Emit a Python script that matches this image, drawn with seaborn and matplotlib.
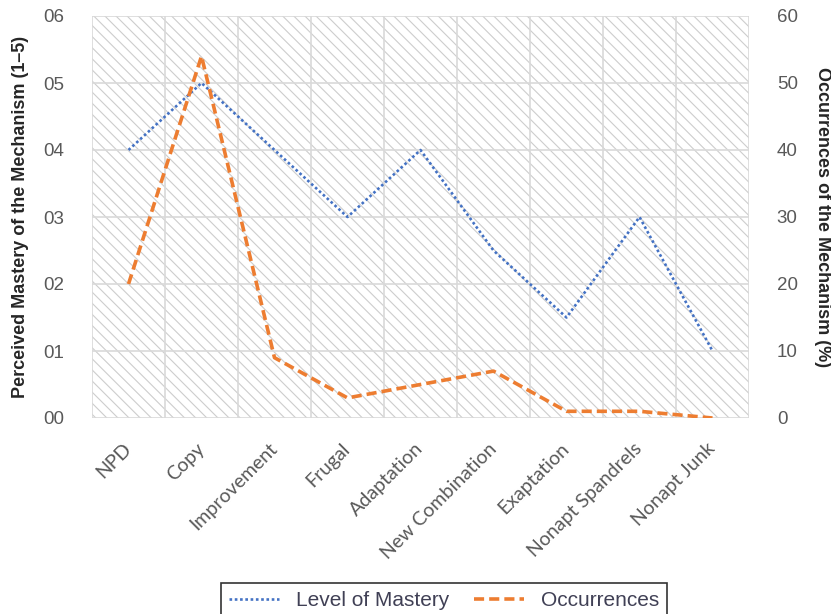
import matplotlib
matplotlib.use("Agg")
import matplotlib.pyplot as plt
from matplotlib.patches import Rectangle
from matplotlib.lines import Line2D
import seaborn as sns
import pandas as pd
import numpy as np

categories = ["NPD", "Copy", "Improvement", "Frugal", "Adaptation",
              "New Combination", "Exaptation", "Nonapt Spandrels", "Nonapt Junk"]
mastery = [4.0, 5.0, 4.0, 3.0, 4.0, 2.5, 1.5, 3.0, 1.0]
occurrences = [20, 54, 9, 3, 5, 7, 1, 1, 0]
left_ticklabels = ["00", "01", "02", "03", "04", "05", "06"]
right_ticklabels = ["0", "10", "20", "30", "40", "50", "60"]

df = pd.DataFrame({"cat": categories, "mastery": mastery, "occ": occurrences})
df["pos"] = np.arange(len(categories))

sns.set_style("white")
plt.rcParams["font.family"] = ["Liberation Sans", "DejaVu Sans"]
plt.rcParams["hatch.linewidth"] = 0.8

BLUE = "#4472C4"
ORANGE = "#ED7D31"
GRID = "#d9d9d9"
TXT = "#595959"

fig = plt.figure(figsize=(8.31, 6.14), dpi=100)
ax = fig.add_axes([92/831, 1-418/614, (749-92)/831, (418-16)/614])
ax2 = ax.twinx()

# hatched background
ax.add_patch(Rectangle((0, 0), 1, 1, transform=ax.transAxes, facecolor="white",
                       edgecolor="#cdcdcd", hatch="\\\\\\", lw=0, zorder=0))

sns.lineplot(data=df, x="pos", y="mastery", ax=ax, color=BLUE, lw=1.9,
             linestyle=(0, (1, 1)), zorder=3, legend=False)
sns.lineplot(data=df, x="pos", y="occ", ax=ax2, color=ORANGE, lw=2.6,
             linestyle=(0, (2.8, 1.4)), zorder=3, legend=False)

for a in (ax, ax2):
    a.set_xlim(-0.5, len(categories) - 0.5)
    for s in a.spines.values():
        s.set_visible(False)

ax.set_ylim(0, 6)
ax2.set_ylim(0, 60)
ax.set_yticks(range(7))
ax.set_yticklabels(left_ticklabels)
ax2.set_yticks(range(0, 61, 10))
ax2.set_yticklabels(right_ticklabels)

ax.set_xticks(df["pos"])
ax.set_xticklabels(categories, rotation=45, ha="right", va="center",
                   rotation_mode="anchor", fontsize=14, color=TXT,
                   family=["Lato", "DejaVu Sans"])
ax.set_xticks(np.arange(-0.5, len(categories), 1), minor=True)
ax.tick_params(axis="x", which="major", length=0, pad=20)
ax.tick_params(axis="x", which="minor", length=6, color=GRID, width=1.2)
ax.tick_params(axis="y", length=0, pad=20, labelsize=13.5, labelcolor=TXT)
ax2.tick_params(axis="y", length=0, pad=20, labelsize=13.5, labelcolor=TXT)
ax2.tick_params(axis="x", which="both", length=0, labelbottom=False, labeltop=False)

ax.set_axisbelow(True)
ax.grid(True, axis="y", color=GRID, lw=1.2, zorder=1)
ax.grid(True, axis="x", which="minor", color=GRID, lw=1.2, zorder=1)
ax.grid(False, axis="x", which="major")
ax2.grid(False)
ax2.patch.set_visible(False)

ax.set_xlabel("")
ax.set_ylabel("Perceived Mastery of the Mechanism (1\u20135)", fontsize=13,
              fontweight="bold", color="#262626")
ax.yaxis.set_label_coords(-(92-29)/657, 0.5)
ax2.set_ylabel("Occurrences of the Mechanism (%)", fontsize=13,
               fontweight="bold", color="#262626", rotation=-90, va="center")
ax2.yaxis.set_label_coords(1 + (822-749)/657, 0.5)

handles = [Line2D([], [], color=BLUE, lw=1.9, linestyle=(0, (1, 1))),
           Line2D([], [], color=ORANGE, lw=2.6, linestyle=(0, (2.8, 1.4)))]
leg = fig.legend(handles, ["Level of Mastery", "Occurrences"], ncol=2,
                 loc="upper center", bbox_to_anchor=(444/831, 1-583/614),
                 bbox_transform=fig.transFigure, fontsize=15, frameon=True,
                 fancybox=False, edgecolor="black", handlelength=2.4,
                 columnspacing=1.2, borderpad=0.4, borderaxespad=0,
                 labelcolor="#404055")
leg.get_frame().set_linewidth(1.2)

fig.savefig("out.png", dpi=100)
